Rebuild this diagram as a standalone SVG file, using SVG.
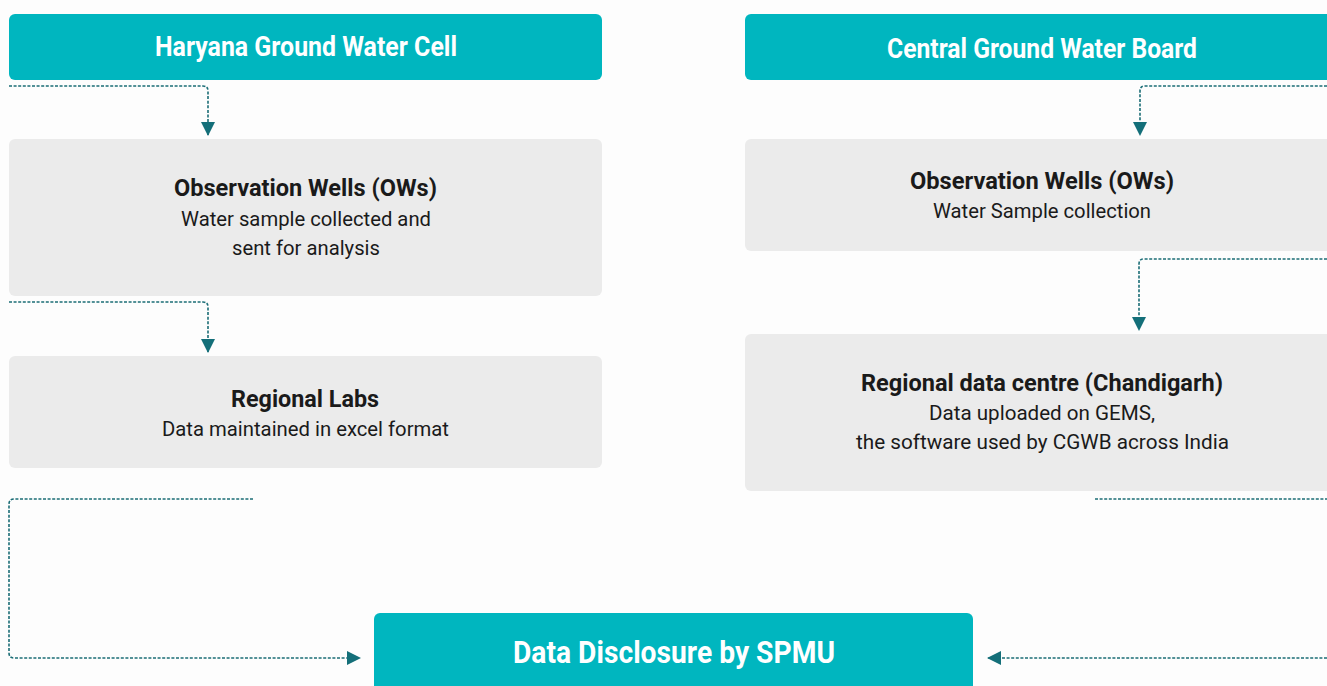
<svg xmlns="http://www.w3.org/2000/svg" width="1327" height="686" viewBox="0 0 1327 686">
<style>
.hdr{fill:#00B6BF}
.box{fill:#EBEBEB}
.ht{font-family:Roboto,"Liberation Sans",sans-serif;font-weight:bold;fill:#FFFFFF;text-anchor:middle}
.bt{font-family:Roboto,"Liberation Sans",sans-serif;font-weight:bold;font-size:24px;fill:#1A1A1A;text-anchor:middle}
.nt{font-family:Roboto,"Liberation Sans",sans-serif;font-size:21px;fill:#1A1A1A;text-anchor:middle}
.con{fill:none;stroke:#1B6D76;stroke-width:1.6;stroke-dasharray:3 1.6}
</style>
<defs>
<marker id="ah" viewBox="0 0 14 14" refX="13" refY="7" markerWidth="14" markerHeight="14" markerUnits="userSpaceOnUse" orient="auto">
<path d="M0,0 L14,7 L0,14 Z" fill="#146F79"/>
</marker>
</defs>
<rect width="1327" height="686" fill="#FDFDFD"/>
<g id="connectors">
<path class="con" d="M9,86 H203 Q208,86 208,91 V135" marker-end="url(#ah)"/>
<path class="con" d="M9,302 H203 Q208,302 208,307 V352" marker-end="url(#ah)"/>
<path class="con" d="M1327,86 H1145 Q1140,86 1140,91 V135" marker-end="url(#ah)"/>
<path class="con" d="M1327,259 H1144 Q1139,259 1139,264 V330" marker-end="url(#ah)"/>
<path class="con" d="M253,499 H14 Q9,499 9,504 V653 Q9,658 14,658 H360" marker-end="url(#ah)"/>
<path class="con" d="M1095,499 H1327"/>
<path class="con" d="M1327,658 H988" marker-end="url(#ah)"/>
</g>
<g id="haryana">
<rect class="hdr" x="9" y="14" width="593" height="66" rx="6"/>
<text class="ht" x="306" y="56" font-size="27" textLength="302" lengthAdjust="spacingAndGlyphs">Haryana Ground Water Cell</text>
</g>
<g id="cgwb">
<rect class="hdr" x="745" y="14" width="590" height="66" rx="6"/>
<text class="ht" x="1042" y="58" font-size="27" textLength="310" lengthAdjust="spacingAndGlyphs">Central Ground Water Board</text>
</g>
<g id="ow-left">
<rect class="box" x="9" y="139" width="593" height="157" rx="6"/>
<text class="bt" x="305.5" y="196" textLength="263" lengthAdjust="spacingAndGlyphs">Observation Wells (OWs)</text>
<text class="nt" x="306" y="226" textLength="250" lengthAdjust="spacingAndGlyphs">Water sample collected and</text>
<text class="nt" x="306" y="255" textLength="148" lengthAdjust="spacingAndGlyphs">sent for analysis</text>
</g>
<g id="labs">
<rect class="box" x="9" y="356" width="593" height="112" rx="6"/>
<text class="bt" x="305" y="407" textLength="148" lengthAdjust="spacingAndGlyphs">Regional Labs</text>
<text class="nt" x="305.5" y="436" textLength="287" lengthAdjust="spacingAndGlyphs">Data maintained in excel format</text>
</g>
<g id="ow-right">
<rect class="box" x="745" y="139" width="590" height="112" rx="6"/>
<text class="bt" x="1042" y="189" textLength="264" lengthAdjust="spacingAndGlyphs">Observation Wells (OWs)</text>
<text class="nt" x="1042" y="218" textLength="218" lengthAdjust="spacingAndGlyphs">Water Sample collection</text>
</g>
<g id="rdc">
<rect class="box" x="745" y="334" width="590" height="157" rx="6"/>
<text class="bt" x="1042" y="391" textLength="362" lengthAdjust="spacingAndGlyphs">Regional data centre (Chandigarh)</text>
<text class="nt" x="1042" y="420" textLength="226" lengthAdjust="spacingAndGlyphs">Data uploaded on GEMS,</text>
<text class="nt" x="1042.5" y="449" textLength="373" lengthAdjust="spacingAndGlyphs">the software used by CGWB across India</text>
</g>
<g id="spmu">
<rect class="hdr" x="374" y="613" width="599" height="85" rx="6"/>
<text class="ht" x="674" y="663" font-size="31" textLength="322" lengthAdjust="spacingAndGlyphs">Data Disclosure by SPMU</text>
</g>
</svg>
